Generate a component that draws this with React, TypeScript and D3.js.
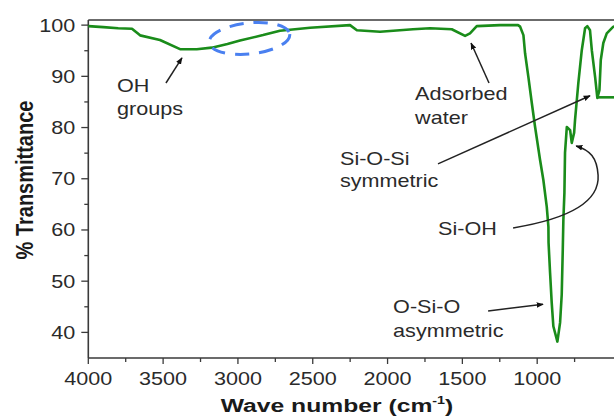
import React from "react";
import * as d3 from "d3";

const W = 614;
const H = 417;

// Main FTIR spectrum (wave number cm-1, % transmittance)
const waveNumbers = [
  4000, 3900, 3800, 3708, 3654, 3521, 3387, 3275, 3175, 3070, 2986, 2832, 2719, 2518,
  2251, 2205, 2050, 1830, 1716, 1571, 1482, 1449, 1404, 1248, 1128, 1114, 1092, 1081,
  1059, 1036, 1014, 981, 959, 936, 925, 924, 914, 903, 892, 865, 847, 836, 829, 825,
  818, 814, 802, 780, 769, 753, 747, 725, 702, 680, 665, 647, 635, 613, 598, 584, 575,
  558, 535, 491, 450,
];
const transmittance = [
  99.8, 99.6, 99.4, 99.3, 98.0, 97.1, 95.3, 95.3, 95.6, 96.3, 97.0, 98.05, 98.9, 99.5,
  100.0, 99.0, 98.7, 99.2, 99.4, 99.2, 97.9, 98.4, 99.8, 100.0, 100.0, 99.7, 98.05, 94.5,
  89.9, 84.8, 80.1, 73.7, 69.8, 64.5, 60.6, 57.5, 51.7, 45.8, 41.2, 38.2, 41.9, 47.4, 56.2, 62.0,
  67.3, 75.1, 80.1, 79.5, 77.0, 79.0, 81.5, 88.7, 95.1, 99.4, 99.8, 99.0, 95.1, 89.9, 85.8, 87.3, 93.2,
  96.5, 98.4, 99.7, 100.0,
];
// short flat trailing segment
const tailWaveNumbers = [598, 450];
const tailTransmittance = [85.9, 85.9];

const xMajorTicks = [4000, 3500, 3000, 2500, 2000, 1500, 1000];
const xMinorTicks = [3750, 3250, 2750, 2250, 1750, 1250, 750];
const yMajorTicks = [40, 50, 60, 70, 80, 90, 100];
const yMinorTicks = [45, 55, 65, 75, 85, 95];

const annotationLabels = [
  { lines: ["OH", "groups"], wn: 3808, t: [86.9, 82.5] },
  { lines: ["Adsorbed", "water"], wn: 1816, t: [85.4, 80.7] },
  { lines: ["Si-O-Si", "symmetric"], wn: 2318, t: [72.7, 68.4] },
  { lines: ["Si-OH"], wn: 1663, t: [59.0] },
  { lines: ["O-Si-O", "asymmetric"], wn: 1963, t: [43.8, 39.1] },
];
const straightArrows = [
  { from: [3481, 88.7], to: [3374, 93.6] },
  { from: [1322, 88.7], to: [1442, 96.5] },
  { from: [1663, 72.9], to: [647, 86.2] },
  { from: [1328, 44.2], to: [961, 45.5] },
];
// Si-OH curved arrow: start, then two cubic segments (c1, c2, end)
const curvedArrow = {
  start: [1161, 60.4],
  segs: [
    [[847, 61.9], [580, 64.9], [593, 70.7]],
    [[600, 74.1], [647, 75.6], [740, 76.4]],
  ],
};
const ellipseCenter = [2923, 97.4];

export default function App() {
  const x = d3.scaleLinear().domain([4000, 450]).range([88.3, 88.3 + 3550 * 0.14963]);
  const y = d3.scaleLinear().domain([35, 101]).range([358, 20]);

  const line = d3
    .line<number>()
    .x((_, i) => x(waveNumbers[i]))
    .y((d) => y(d));
  const tailLine = d3
    .line<number>()
    .x((_, i) => x(tailWaveNumbers[i]))
    .y((d) => y(d));

  const p = d3.path();
  p.moveTo(x(curvedArrow.start[0]), y(curvedArrow.start[1]));
  curvedArrow.segs.forEach(([c1, c2, e]) => {
    p.bezierCurveTo(x(c1[0]), y(c1[1]), x(c2[0]), y(c2[1]), x(e[0]), y(e[1]));
  });

  const font = "Arial, 'Liberation Sans', Helvetica, sans-serif";
  const textColor = "#2a2a2a";
  const axisColor = "#3a3a3a";
  const left = x(4000);
  const bottom = y(35);
  const top = y(101);

  return (
    <svg
      width={W}
      height={H}
      style={{ position: "absolute", left: 0, top: 0, background: "#fff" }}
      fontFamily={font}
    >
      <defs>
        <marker id="ah" viewBox="0 0 10 10" refX="9" refY="5" markerWidth="7" markerHeight="7" orient="auto" markerUnits="userSpaceOnUse">
          <path d="M0,1 L10,5 L0,9 Z" fill="#111" />
        </marker>
      </defs>

      {/* frame */}
      <line x1={left} x2={W} y1={top} y2={top} stroke={axisColor} strokeWidth={1.5} />
      <line x1={left} x2={left} y1={top} y2={bottom} stroke={axisColor} strokeWidth={1.6} />
      <line x1={left} x2={W} y1={bottom} y2={bottom} stroke={axisColor} strokeWidth={1.6} />

      {/* y ticks */}
      {yMajorTicks.map((v) => (
        <g key={"ym" + v}>
          <line x1={left - 7} x2={left} y1={y(v)} y2={y(v)} stroke={axisColor} strokeWidth={1.3} />
          <text
            transform={`translate(${left - 13},${y(v) + 6.5}) scale(1.2,1)`}
            textAnchor="end"
            fontSize={18}
            fill={textColor}
          >
            {v}
          </text>
        </g>
      ))}
      {yMinorTicks.map((v) => (
        <line key={"yn" + v} x1={left - 4} x2={left} y1={y(v)} y2={y(v)} stroke={axisColor} strokeWidth={1.3} />
      ))}

      {/* x ticks */}
      {xMajorTicks.map((v) => (
        <g key={"xm" + v}>
          <line x1={x(v)} x2={x(v)} y1={bottom} y2={bottom + 6} stroke={axisColor} strokeWidth={1.3} />
          <text
            transform={`translate(${x(v)},385) scale(1.2,1)`}
            textAnchor="middle"
            fontSize={18}
            fill={textColor}
          >
            {v}
          </text>
        </g>
      ))}
      {xMinorTicks.map((v) => (
        <line key={"xn" + v} x1={x(v)} x2={x(v)} y1={bottom} y2={bottom + 4} stroke={axisColor} strokeWidth={1.3} />
      ))}

      {/* axis titles */}
      <text
        transform="translate(33,180) rotate(-90) scale(1,1.2)"
        textAnchor="middle"
        fontSize={20}
        fontWeight="bold"
        fill="#1a1a1a"
      >
        % Transmittance
      </text>
      <text
        transform="translate(337,412) scale(1.3,1)"
        textAnchor="middle"
        fontSize={19}
        fontWeight="bold"
        fill="#1a1a1a"
      >
        Wave number (cm
        <tspan fontSize={11} dy={-8}>-1</tspan>
        <tspan dy={8}>)</tspan>
      </text>

      {/* spectrum */}
      <path d={line(transmittance) || ""} fill="none" stroke="#1a8c1a" strokeWidth={2.6} strokeLinejoin="round" />
      <path d={tailLine(tailTransmittance) || ""} fill="none" stroke="#1a8c1a" strokeWidth={2.6} />

      {/* dashed ellipse */}
      <ellipse
        cx={0}
        cy={0}
        rx={40.5}
        ry={15.5}
        transform={`translate(${x(ellipseCenter[0])},${y(ellipseCenter[1])}) rotate(-6)`}
        fill="none"
        stroke="#4a80f0"
        strokeWidth={3}
        strokeDasharray="14 10"
      />

      {/* annotations */}
      {annotationLabels.map((a, i) =>
        a.lines.map((s, j) => (
          <text
            key={`a${i}-${j}`}
            transform={`translate(${x(a.wn)},${y(a.t[j])}) scale(1.2,1)`}
            fontSize={18}
            fill={textColor}
          >
            {s}
          </text>
        ))
      )}
      {straightArrows.map((a, i) => (
        <line
          key={"ar" + i}
          x1={x(a.from[0])}
          y1={y(a.from[1])}
          x2={x(a.to[0])}
          y2={y(a.to[1])}
          stroke="#222"
          strokeWidth={1.5}
          markerEnd="url(#ah)"
        />
      ))}
      <path d={p.toString()} fill="none" stroke="#222" strokeWidth={1.5} markerEnd="url(#ah)" />
    </svg>
  );
}
